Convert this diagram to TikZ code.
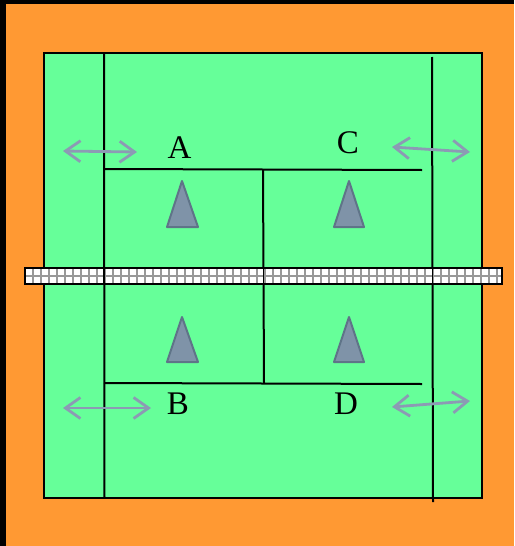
\documentclass[tikz,border=0pt]{standalone}
\usepackage{fontspec}
\setmainfont{Liberation Serif}
\usetikzlibrary{arrows.meta}
\definecolor{courtorange}{HTML}{FF9933}
\definecolor{courtgreen}{HTML}{66FF99}
\definecolor{conefill}{HTML}{7F93A8}
\definecolor{coneedge}{HTML}{5F7488}
\definecolor{arrowgrey}{HTML}{8C9AB4}
\definecolor{netgrey}{HTML}{989898}
\tikzset{
  courtline/.style={draw=black,line width=2pt},
  cone/.style={fill=conefill,draw=coneedge,line width=2pt,line join=round},
  shift arrow/.style={draw=arrowgrey,line width=2.8pt,{Straight Barb[length=15pt,width=21pt,line width=2.8pt]}-{Straight Barb[length=15pt,width=21pt,line width=2.8pt]}},
  letter/.style={font=\fontsize{33}{33}\selectfont,text=black,inner sep=0pt},
}
\begin{document}
\begin{tikzpicture}[x=1pt,y=-1pt]
\useasboundingbox (0,0) rectangle (514,546);
\fill[black] (0,0) rectangle (514,546);
\fill[courtorange] (6,4) rectangle (514,546);
\draw[courtline,fill=courtgreen] (44,53) rectangle (481.5,498);
% long lines
\coordinate (t1) at (104,53); \coordinate (b1) at (104.5,498);
\coordinate (t2) at (432,57); \coordinate (b2) at (433,502);
\draw[courtline] (t1) -- (b1);
\draw[courtline] (t2) -- (b2);
\coordinate (a1) at (104,169); \coordinate (a2) at (422,170);
\coordinate (c1) at (104,383); \coordinate (c2) at (422,384);
\coordinate (m1) at (263,170); \coordinate (m2) at (264,383);
\draw[courtline] (a1) -- (a2);
\draw[courtline] (c1) -- (c2);
\draw[courtline] (m1) -- (m2);
% cones
\draw[cone] (182,181) -- (198,227) -- (167,227) -- cycle;
\draw[cone] (349,181) -- (364,227) -- (334,227) -- cycle;
\draw[cone] (182,317) -- (198,362) -- (167,362) -- cycle;
\draw[cone] (349,317) -- (364,362) -- (334,362) -- cycle;
% net
\fill[white] (25,268) rectangle (502,284);
\begin{scope}
\clip (25,268) rectangle (502,284);
\foreach \x in {0,...,59} \draw[netgrey,line width=2.4pt] ({33+\x*8},268) -- ({33+\x*8},284);
\draw[netgrey,line width=2.4pt] (25,276) -- (502,276);
\end{scope}
\draw[black,line width=1.8pt] (104,268) -- (104,284) (263.5,268) -- (263.5,284) (432.5,268) -- (432.5,284);
\draw[black,line width=2pt] (25,268) rectangle (502,284);
% arrows
\coordinate (p1) at (63,151); \coordinate (p2) at (137,152);
\coordinate (q1) at (392,147); \coordinate (q2) at (470,152);
\coordinate (r1) at (63,408); \coordinate (r2) at (151,408);
\coordinate (s1) at (392,407); \coordinate (s2) at (470,401);
\draw[shift arrow] (p1) -- (p2);
\draw[shift arrow] (q1) -- (q2);
\draw[shift arrow] (r1) -- (r2);
\draw[shift arrow] (s1) -- (s2);
% labels
\node[letter] (A) at (179.5,148) {A};
\node[letter] (C) at (348,143) {C};
\node[letter] (B) at (178,404) {B};
\node[letter] (D) at (346,404) {D};
\end{tikzpicture}
\end{document}
